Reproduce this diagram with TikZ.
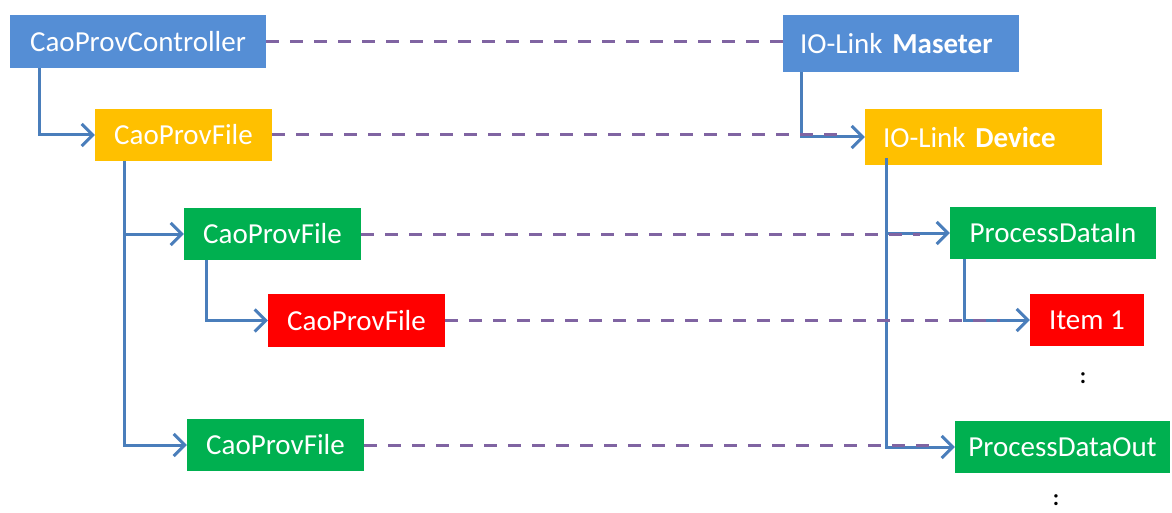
\documentclass[tikz,border=0pt]{standalone}
\usepackage{fontspec}
\setmainfont{Carlito}
\usetikzlibrary{arrows.meta,calc}
\definecolor{cblue}{HTML}{558ED5}
\definecolor{corange}{HTML}{FFC000}
\definecolor{cgreen}{HTML}{00B050}
\definecolor{cred}{HTML}{FF0000}
\definecolor{cline}{HTML}{4A7EBB}
\definecolor{cdash}{HTML}{8064A2}
\begin{document}
\begin{tikzpicture}[x=1pt,y=-1pt,
  box/.style={draw=none,text=white,inner sep=0pt,anchor=center,minimum height=52pt,
    font=\fontsize{29}{34}\selectfont},
  conn/.style={draw=cline,line width=3pt,-{Straight Barb[length=11pt,width=22pt]}},
  dashconn/.style={draw=cdash,line width=3pt,dash pattern=on 13pt off 11pt},
  dots/.style={text=black,inner sep=0pt,font=\fontsize{23}{26}\selectfont\bfseries}]
\useasboundingbox (0,0) rectangle (1172,513);
% left column
\node[box,fill=cblue,minimum width=256pt,minimum height=53pt] (ctrl) at (138,41.5) {CaoProvController};
\node[box,fill=corange,minimum width=177pt] (file0) at (183.5,135) {CaoProvFile};
\node[box,fill=cgreen,minimum width=177pt] (g1) at (272.5,234) {CaoProvFile};
\node[box,fill=cred,minimum width=177pt,minimum height=53pt] (r1) at (356.5,320.5) {CaoProvFile};
\node[box,fill=cgreen,minimum width=177pt] (g2) at (275.5,445) {CaoProvFile};
% right column
\node[box,fill=cblue,minimum width=236pt,minimum height=57pt,text width=202pt,align=left] (master) at (901,43.5) {IO-Link \textbf{Maseter}};
\node[box,fill=corange,minimum width=237pt,minimum height=56pt,text width=201pt,align=left] (device) at (983.5,137) {IO-Link \textbf{Device}};
\node[box,fill=cgreen,minimum width=206pt] (pdin) at (1053,233) {ProcessDataIn};
\node[box,fill=cred,minimum width=114pt] (item) at (1087,320) {Item 1};
\node[box,fill=cgreen,minimum width=215pt] (pdout) at (1062.5,447) {ProcessDataOut};
\node[dots] (d1) at (1083,378) {:};
\node[dots] (d2) at (1056,500) {:};
% hierarchy connectors
\draw[conn] ([xshift=30pt]ctrl.south west) |- (file0.west);
\draw[conn] ([xshift=30pt]file0.south west) |- (g1.west);
\draw[conn] ([xshift=30pt]file0.south west) |- (g2.west);
\draw[conn] ([xshift=23pt]g1.south west) |- (r1.west);
\draw[conn] ([xshift=19pt]master.south west) |- (device.west);
\draw[conn] ([xshift=22pt,yshift=7pt]device.south west) |- (pdin.west);
\draw[conn] ([xshift=22pt,yshift=7pt]device.south west) |- (pdout.west);
\draw[conn] ([xshift=15pt]pdin.south west) |- (item.west);
% mapping dashed lines
\draw[dashconn] (ctrl.east) -- (ctrl.east -| master.west);
\draw[dashconn] (file0.east) -- ($(file0.east -| device.west)+(-20,0)$);
\draw[dashconn] (g1.east) -- ($(g1.east -| pdin.west)+(-30,0)$);
\draw[dashconn] (r1.east) -- ($(r1.east -| item.west)+(-30,0)$);
\draw[dashconn] (g2.east) -- ($(g2.east -| pdout.west)+(-25,0)$);
\end{tikzpicture}
\end{document}
